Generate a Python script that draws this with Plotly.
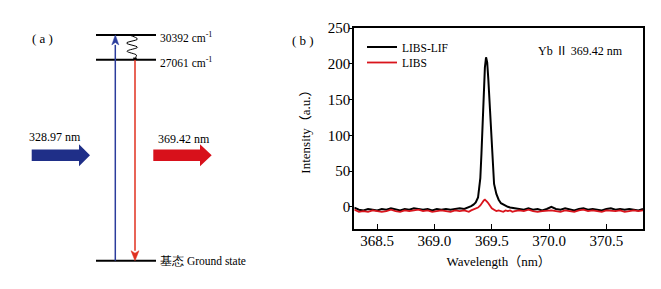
import plotly.graph_objects as go

W, H = 661, 289

# ---------------- data: spectrum (panel b) ----------------
wavelength = [368.30, 368.34, 368.38, 368.42, 368.46, 368.50, 368.54, 368.58, 368.62, 368.66,
              368.70, 368.74, 368.78, 368.82, 368.86, 368.90, 368.94, 368.98, 369.02, 369.06,
              369.10, 369.14, 369.18, 369.22, 369.26,
              369.28, 369.30, 369.32, 369.34, 369.36, 369.38, 369.40, 369.41, 369.42, 369.43,
              369.44, 369.45, 369.46, 369.47, 369.48, 369.49, 369.50, 369.52, 369.54, 369.56,
              369.58, 369.60, 369.62, 369.64, 369.66, 369.68, 369.70,
              369.74, 369.78, 369.82, 369.86, 369.90, 369.94, 369.98, 370.02, 370.06, 370.10,
              370.14, 370.18, 370.22, 370.26, 370.30, 370.34, 370.38, 370.42, 370.46, 370.50,
              370.54, 370.58, 370.62, 370.66, 370.70, 370.74, 370.78, 370.82]

libs_lif = [-1, -4, -5, -3, -4, -5, -3, -4, -2, -4,
            -5, -3, -4, -2, -3, -4, -3, -5, -3, -4,
            -3, -4, -3, -2, -3,
            -2, -1, 1, 3, 6, 13, 40, 75, 115, 160,
            195, 209, 202, 178, 145, 112, 80, 32, 18, 10,
            5, 3, 1, 0, -1, -2, -2,
            -3, -4, -2, -4, -3, -5, -3, 0, -3, -4,
            -2, -4, -5, -3, -2, -4, -3, -4, -5, -3,
            -2, -4, -3, -4, -3, -4, -5, -3]

libs = [-4, -7, -6, -7, -5, -6, -7, -6, -4, -6,
        -7, -5, -6, -5, -4, -6, -5, -7, -6, -5,
        -6, -7, -5, -6, -5,
        -6, -7, -5, -4, -3, -1, 2, 5, 7, 9,
        10, 9, 7, 5, 2, 0, -2, -4, -6, -5,
        -6, -7, -5, -6, -5, -7, -6,
        -5, -6, -4, -6, -7, -6, -5, -5, -6, -7,
        -5, -6, -7, -5, -4, -6, -5, -6, -7, -5,
        -6, -6, -5, -7, -6, -5, -6, -5]

x_ticks = [368.5, 369.0, 369.5, 370.0, 370.5]
y_ticks = [0, 50, 100, 150, 200, 250]

# ---------------- data: energy levels (panel a) ----------------
level_energy = [0, 27061, 30392]          # cm^-1
level_label = ["基态 Ground state", "27061 cm<sup>-1</sup>", "30392 cm<sup>-1</sup>"]
excitation_nm = "328.97 nm"
emission_nm = "369.42 nm"

SERIF = "Liberation Serif"
SERIF_CJK = "Liberation Serif, Noto Sans CJK SC"

def px_x(p):
    return p / W

def px_y(p):
    return 1 - p / H

fig = go.Figure()

# spectrum traces
fig.add_trace(go.Scatter(x=wavelength, y=libs_lif, mode="lines", name="LIBS-LIF",
                         line=dict(color="black", width=2), legend="legend"))
fig.add_trace(go.Scatter(x=wavelength, y=libs, mode="lines", name="LIBS",
                         line=dict(color="#d9141c", width=1.8), legend="legend2"))

# ---------------- panel a geometry (x2 units ~ px, y2 in cm^-1) ----------------
lvl_x0, lvl_x1 = 96, 156
up_x, down_x = 115.3, 135
k = 7.43e-3  # px per cm^-1
y2_range = [-(289 - 260.7) / k, 260.7 / k]
head_len = 10 / k

shapes = []
for e in level_energy:
    shapes.append(dict(type="line", xref="x2", yref="y2", x0=lvl_x0, x1=lvl_x1, y0=e, y1=e,
                       line=dict(color="black", width=2)))

def v_arrow(x, e_from, e_to, color, width, hl, hw):
    sgn = 1 if e_to > e_from else -1
    base = e_to - sgn * hl
    out = [dict(type="line", xref="x2", yref="y2", x0=x, x1=x, y0=e_from, y1=base,
                line=dict(color=color, width=width))]
    out.append(dict(type="path", xref="x2", yref="y2",
                    path=f"M {x - hw},{base} L {x},{e_to} L {x + hw},{base} L {x},{base + sgn * hl * 0.25} Z",
                    fillcolor=color, line=dict(color=color, width=0.5)))
    return out

shapes += v_arrow(up_x, level_energy[0], level_energy[2], "#2b3c9c", 1.5, head_len, 3.5)
shapes += v_arrow(down_x, level_energy[1], level_energy[0], "#e0301f", 1.5, head_len, 4)

def block_arrow(x0, xb, xt, yc, hb, hh, color):
    yt_b, yb_b = px_y(yc - hb), px_y(yc + hb)
    yt_h, yb_h = px_y(yc - hh), px_y(yc + hh)
    ym = px_y(yc)
    path = (f"M {x0},{yt_b} L {xb},{yt_b} L {xb},{yt_h} L {xt},{ym} "
            f"L {xb},{yb_h} L {xb},{yb_b} L {x0},{yb_b} Z")
    return dict(type="path", xref="x2", yref="paper", path=path,
                fillcolor=color, line=dict(color=color, width=0))

shapes.append(block_arrow(31.7, 79, 90, 155.2, 5.8, 11, "#1f2f88"))
shapes.append(block_arrow(153.3, 200, 211.7, 155.2, 5.8, 11, "#d8111b"))

# squiggle (non-radiative relaxation) between upper and lower excited levels
sq_x = [129, 137.5, 126.5, 137.5, 127, 136.5, 135]
e_hi, e_lo = level_energy[2], level_energy[1]
sq_frac = [0.0, 0.17, 0.33, 0.5, 0.66, 0.82, 0.93]
sq_y = [e_hi - f * (e_hi - e_lo) for f in sq_frac]
fig.add_trace(go.Scatter(x=sq_x, y=sq_y, xaxis="x2", yaxis="y2", mode="lines",
                         line=dict(color="black", width=1, shape="spline"),
                         showlegend=False, hoverinfo="skip"))
shapes.append(dict(type="path", xref="x2", yref="y2",
                   path=f"M {down_x - 2},{sq_y[-1]} L {down_x},{e_lo} L {down_x + 2},{sq_y[-1]} Z",
                   fillcolor="black", line=dict(color="black", width=0.5)))

annotations = []
# level labels
for e, lab in zip(level_energy, level_label):
    annotations.append(dict(x=158, y=e, xref="x2", yref="y2", text=lab, showarrow=False,
                            xanchor="left", yanchor="middle", yshift=-2 if e else 0,
                            font=dict(family=SERIF, size=11.5, color="black")))

annotations.append(dict(x=54.7, y=px_y(136.7), xref="x2", yref="paper", text=excitation_nm,
                        showarrow=False, font=dict(family=SERIF, size=12, color="black")))
annotations.append(dict(x=184, y=px_y(139.3), xref="x2", yref="paper", text=emission_nm,
                        showarrow=False, font=dict(family=SERIF, size=12, color="black")))
annotations.append(dict(x=px_x(30), y=px_y(38.5), xref="paper", yref="paper", text="( a )",
                        xanchor="left", yanchor="middle",
                        showarrow=False, font=dict(family=SERIF, size=13, color="black")))
annotations.append(dict(x=px_x(290), y=px_y(40), xref="paper", yref="paper", text="( b )",
                        xanchor="left", yanchor="middle",
                        showarrow=False, font=dict(family=SERIF, size=13, color="black")))
annotations.append(dict(x=px_x(536), y=px_y(51), xref="paper", yref="paper",
                        text="Yb Ⅱ 369.42 nm", showarrow=False,
                        xanchor="left", yanchor="middle",
                        font=dict(family=SERIF_CJK, size=12, color="black")))

legend_common = dict(xanchor="left", yanchor="middle", bgcolor="rgba(0,0,0,0)", borderwidth=0,
                     font=dict(family=SERIF, size=11.5, color="black"))

fig.update_layout(
    width=W, height=H,
    margin=dict(l=0, r=0, t=0, b=0),
    paper_bgcolor="white", plot_bgcolor="white",
    showlegend=True,
    legend=dict(x=px_x(362), y=px_y(47), **legend_common),
    legend2=dict(x=px_x(362), y=px_y(62.5), **legend_common),
    xaxis=dict(domain=[px_x(354.3), px_x(643)], range=[368.30, 370.82],
               tickvals=x_ticks, ticktext=[f"{v:.1f}" for v in x_ticks],
               ticks="inside", ticklen=5, tickwidth=1, tickcolor="black",
               ticklabelstandoff=-3,
               showline=True, linewidth=2, linecolor="black", mirror=True,
               showgrid=False, zeroline=False, automargin=False,
               tickfont=dict(family=SERIF, size=15, color="black"),
               title=dict(text="Wavelength（nm）", standoff=9,
                          font=dict(family=SERIF_CJK, size=13, color="black"))),
    yaxis=dict(domain=[px_y(229), px_y(28)], range=[-31, 250],
               tickvals=y_ticks, ticks="outside", ticklen=3, tickwidth=1, tickcolor="black",
               ticklabelstandoff=-4,
               showline=True, linewidth=2, linecolor="black", mirror=True,
               showgrid=False, zeroline=False, automargin=False,
               tickfont=dict(family=SERIF, size=15, color="black"),
               title=dict(text="Intensity（a.u.）", standoff=14,
                          font=dict(family=SERIF_CJK, size=13, color="black"))),
    xaxis2=dict(domain=[0, px_x(300)], range=[0, 300], visible=False, fixedrange=True,
                anchor="y2"),
    yaxis2=dict(domain=[0, 1], range=y2_range, visible=False, fixedrange=True, anchor="x2"),
    shapes=shapes,
    annotations=annotations,
)
fig.data[2].update(xaxis="x2", yaxis="y2")

fig.write_html("out.html", config={"displayModeBar": False},
               post_script="document.body.style.margin='0';document.body.style.overflow='hidden';")
